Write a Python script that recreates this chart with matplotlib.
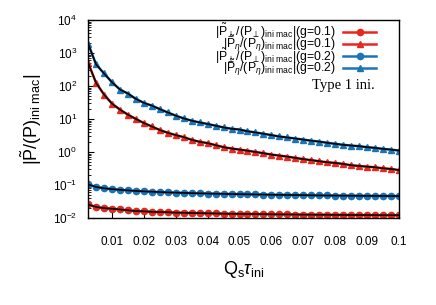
import matplotlib
matplotlib.use("Agg")
import matplotlib.pyplot as plt
from matplotlib.ticker import LogLocator, NullFormatter, FixedLocator

plt.rcParams['font.family'] = ['Liberation Sans', 'DejaVu Sans']
plt.rcParams['mathtext.fontset'] = 'custom'
plt.rcParams['mathtext.rm'] = 'Liberation Sans'
plt.rcParams['mathtext.it'] = 'Liberation Sans:italic'
plt.rcParams['mathtext.sf'] = 'Liberation Sans'

# Q_s tau_ini
qs_tau = [0.0025, 0.005, 0.0075, 0.01, 0.0125, 0.015, 0.0175, 0.02, 0.0225, 0.025,
          0.0275, 0.03, 0.0325, 0.035, 0.0375, 0.04, 0.0425, 0.045, 0.0475, 0.05,
          0.0525, 0.055, 0.0575, 0.06, 0.0625, 0.065, 0.0675, 0.07, 0.0725, 0.075,
          0.0775, 0.08, 0.0825, 0.085, 0.0875, 0.09, 0.0925, 0.095, 0.0975, 0.1]

# |P_perp| g=0.1 (red circles)
perp_g01 = [0.0258, 0.0218, 0.0200, 0.0192, 0.0182, 0.0172, 0.0163, 0.0160, 0.0155, 0.0152,
            0.0150, 0.0146, 0.0145, 0.0142, 0.0141, 0.0139, 0.0138, 0.0136, 0.0135, 0.0134,
            0.0133, 0.0132, 0.0131, 0.0130, 0.0129, 0.0129, 0.0128, 0.0127, 0.0127, 0.0126,
            0.0126, 0.0125, 0.0125, 0.0124, 0.0124, 0.0123, 0.0123, 0.0122, 0.0122, 0.0122]

# |P_eta| g=0.1 (red triangles)
eta_g01 = [513, 126, 55.5, 29.5, 19.4, 13.6, 10.1, 7.60, 5.98, 4.66,
           3.85, 3.27, 2.84, 2.35, 2.05, 1.87, 1.62, 1.41, 1.28, 1.19,
           1.10, 1.01, 0.925, 0.839, 0.782, 0.729, 0.665, 0.612, 0.570, 0.528,
           0.492, 0.469, 0.437, 0.399, 0.380, 0.362, 0.347, 0.323, 0.308, 0.285]

# |P_perp| g=0.2 (blue circles)
perp_g02 = [0.105, 0.088, 0.080, 0.0755, 0.072, 0.069, 0.0665, 0.0645, 0.063, 0.0615,
            0.060, 0.059, 0.058, 0.057, 0.0562, 0.0555, 0.0548, 0.0542, 0.0536, 0.053,
            0.0525, 0.052, 0.0515, 0.051, 0.0506, 0.0502, 0.0498, 0.0494, 0.049, 0.0487,
            0.0484, 0.0481, 0.0478, 0.0476, 0.0474, 0.0472, 0.047, 0.0468, 0.0466, 0.0464]

# |P_eta| g=0.2 (blue triangles)
eta_g02 = [1950, 457, 242, 131, 78.7, 59.4, 41.0, 31.0, 25.6, 20.0,
           15.9, 12.7, 10.5, 8.93, 7.93, 7.10, 6.30, 5.58, 5.10, 4.82,
           4.28, 3.94, 3.59, 3.27, 2.97, 2.77, 2.58, 2.39, 2.21, 2.08,
           1.91, 1.78, 1.66, 1.58, 1.51, 1.41, 1.34, 1.25, 1.19, 1.11]

xticks = [0.01, 0.02, 0.03, 0.04, 0.05, 0.06, 0.07, 0.08, 0.09, 0.1]
xtick_labels = ['0.01', '0.02', '0.03', '0.04', '0.05', '0.06', '0.07', '0.08', '0.09', '0.1']

red = '#e8281e'
blue = '#1a74b8'

fig = plt.figure(figsize=(4.36, 3.05), dpi=100)
ax = fig.add_axes([0.202, 0.285, 0.713, 0.649])

series = [
    (perp_g01, red, 'o', r'$|\tilde{\mathrm{P}}_{\perp}/(\mathrm{P}_{\perp})_{\mathrm{ini\ mac}}|$(g=0.1)'),
    (eta_g01, red, '^', r'$|\tilde{\mathrm{P}}_{\eta}/(\mathrm{P}_{\eta})_{\mathrm{ini\ mac}}|$(g=0.1)'),
    (perp_g02, blue, 'o', r'$|\tilde{\mathrm{P}}_{\perp}/(\mathrm{P}_{\perp})_{\mathrm{ini\ mac}}|$(g=0.2)'),
    (eta_g02, blue, '^', r'$|\tilde{\mathrm{P}}_{\eta}/(\mathrm{P}_{\eta})_{\mathrm{ini\ mac}}|$(g=0.2)'),
]

for vals, col, mk, lab in series:
    ax.plot(qs_tau, vals, color=col, marker=mk, markersize=4.5, lw=1.8,
            label=lab, clip_on=True)
for vals, col, mk, lab in series:
    # fit curves drawn over the points
    ax.plot(qs_tau, vals, color='black', lw=1.2, zorder=5)

ax.set_yscale('log')
ax.set_ylim(1e-2, 1e4)
ax.set_xlim(0.0025, 0.1)
ax.xaxis.set_major_locator(FixedLocator(xticks))
ax.set_xticklabels(xtick_labels)
ax.yaxis.set_major_locator(LogLocator(base=10, numticks=10))
ax.yaxis.set_minor_locator(LogLocator(base=10, subs=range(2, 10), numticks=20))
ax.yaxis.set_minor_formatter(NullFormatter())
ax.tick_params(axis='both', which='both', direction='in', top=False, right=False)
ax.tick_params(axis='x', which='major', length=4, pad=13, labelsize=8.5)
ax.tick_params(axis='y', which='major', length=4, pad=8, labelsize=8.5)
ax.tick_params(axis='y', which='minor', length=2)
for sp in ax.spines.values():
    sp.set_linewidth(1.0)

ax.set_xlabel(r'$\mathrm{Q_s}\tau_{\mathrm{ini}}$', fontsize=13, labelpad=8)
ax.set_ylabel(r'$|\tilde{\mathrm{P}}/(\mathrm{P})_{\mathrm{ini\ mac}}|$', fontsize=13, labelpad=6)

ax.legend(loc='upper right', bbox_to_anchor=(0.974, 1.066), frameon=False,
          fontsize=8.8, markerfirst=False, handlelength=2.7, labelspacing=-0.62,
          borderaxespad=1.2, borderpad=0.0, handletextpad=0.6)
ax.text(0.923, 0.672, 'Type 1 ini.', transform=ax.transAxes, ha='right', va='center',
        fontsize=10.5, family='Liberation Serif')

fig.savefig('out.png', dpi=100)
